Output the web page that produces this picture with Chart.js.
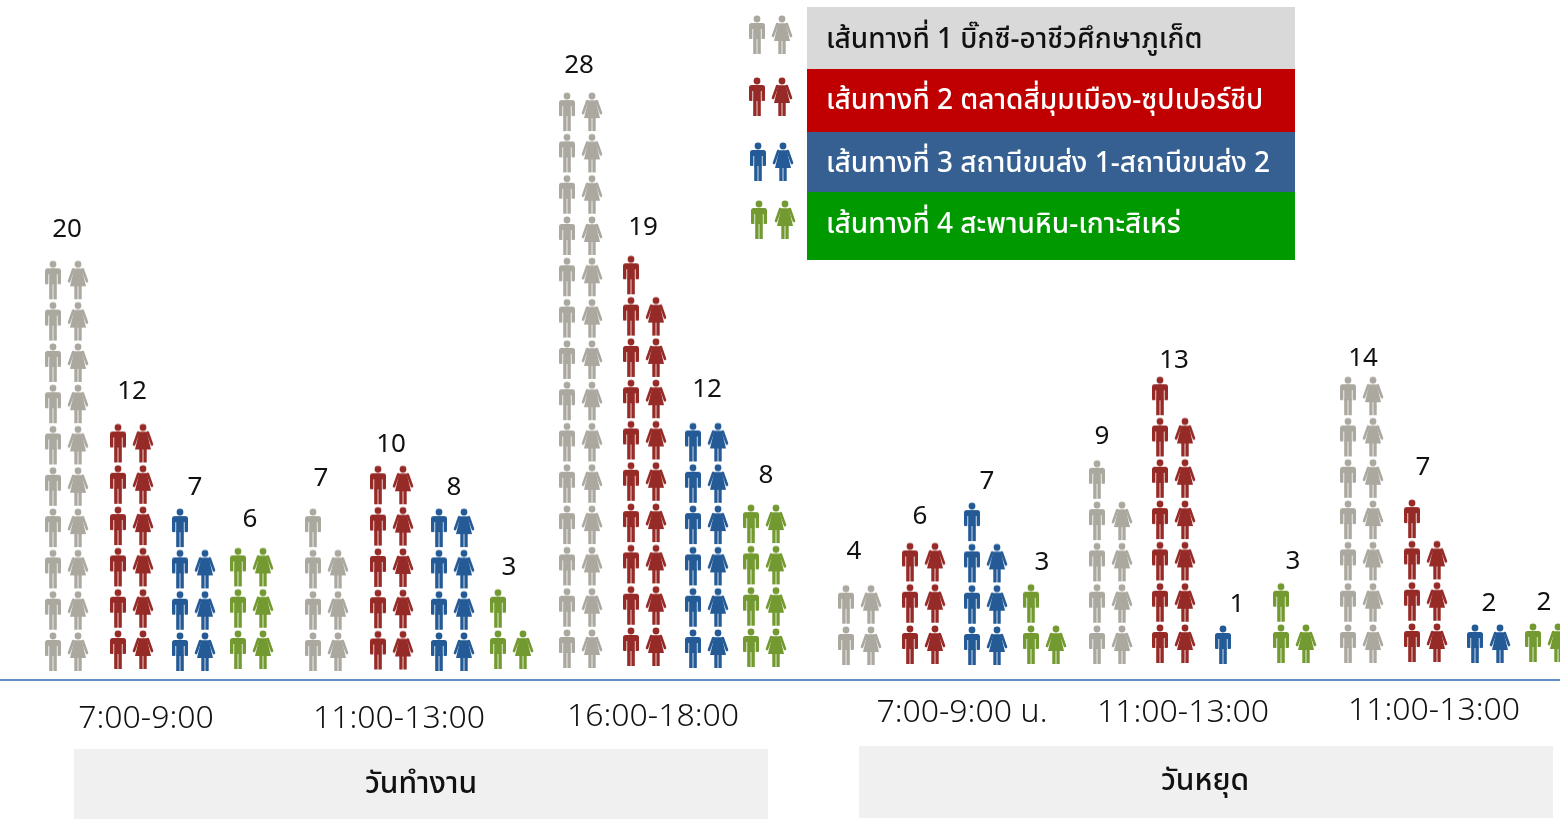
<!DOCTYPE html>
<html>
<head>
<meta charset="utf-8">
<style>
  html, body { margin: 0; padding: 0; background: #fff; overflow: hidden; }
  #wrap { position: relative; width: 1560px; height: 819px; }
</style>
<script src="https://cdn.jsdelivr.net/npm/chart.js@4"></script>
</head>
<body>
<div id="wrap"><canvas id="pictogram"></canvas></div>
<script>
// values, one per time slot
const timeSlots = ['7:00-9:00', '11:00-13:00', '16:00-18:00', '7:00-9:00 น.', '11:00-13:00', '11:00-13:00'];
const dayTypes = ['วันทำงาน', 'วันหยุด'];
const routeNames = [
  'เส้นทางที่ 1 บิ๊กซี-อาชีวศึกษาภูเก็ต',
  'เส้นทางที่ 2 ตลาดสี่มุมเมือง-ซุปเปอร์ชีป',
  'เส้นทางที่ 3 สถานีขนส่ง 1-สถานีขนส่ง 2',
  'เส้นทางที่ 4 สะพานหิน-เกาะสิเหร่'
];
const route1 = [20, 7, 28, 4, 9, 14];
const route2 = [12, 10, 19, 6, 13, 7];
const route3 = [7, 8, 12, 7, 1, 2];
const route4 = [6, 3, 8, 3, 3, 2];
const routes = [route1, route2, route3, route4];

// layout, one per column of people (route by route inside each time slot)
const colX = [53, 118, 180, 238, 313, 378, 439, 498, 567, 631, 693, 751, 846, 910, 972, 1031, 1097, 1160, 1223, 1281, 1348, 1412, 1475, 1533];
const colFoot = [670, 668, 670, 668, 670, 668.5, 670, 668, 667, 665, 667, 666, 664, 663, 664, 663, 663, 662, 663, 662, 662, 661, 662, 661];
const labelX = [67, 132, 195, 250, 321, 391, 454, 509, 579, 643, 707, 766, 854, 920, 987, 1042, 1102, 1174, 1237, 1293, 1363, 1423, 1489, 1544];
const labelGap = [33, 34, 23, 30, 32, 23, 23, 23, 29, 30, 35, 31, 35, 28, 23, 23, 25, 18, 22, 23, 20, 34, 22, 22];

const routeColors = ['#ABA89F', '#962A27', '#245A96', '#739A30'];
const legendFills = ['#D9D9D9', '#C00000', '#376092', '#009900'];
const legendInk = ['#111111', '#ffffff', '#ffffff', '#ffffff'];
const legendBox = [[7, 62], [69, 63], [132, 60], [192, 68]];
const legendTextY = [40, 101, 164, 225];
const legendIconX = [[757, 782], [757, 782], [758, 783], [759, 785]];
const legendIconTop = [14, 76, 141, 199];
const timeLabelPos = [[146, 719], [399, 719], [653, 717], [962, 713], [1183, 713], [1434, 711]];
const dayBands = [[74, 749, 694, 70, 421, 784], [859, 746, 694, 72, 1205, 781]];

const axisY = 679.5;
const pxPerPerson = 20.65;
const womanOffset = 25;
const ICON_H = 42;
const FONT = '"Noto Sans", "Noto Sans Thai", "Open Sans", sans-serif';

function makeIcon(isWoman, color) {
  const c = document.createElement('canvas');
  c.width = 24;
  c.height = ICON_H;
  const g = c.getContext('2d');
  const cx = 12;
  g.filter = 'blur(0.35px)';
  g.fillStyle = color;
  g.strokeStyle = color;
  g.beginPath();
  g.arc(cx, 5, 3.4, 0, Math.PI * 2);
  g.fill();
  if (isWoman) {
    g.beginPath();
    g.moveTo(cx - 3.8, 9.3);
    g.lineTo(cx + 3.8, 9.3);
    g.lineTo(cx + 8, 27);
    g.lineTo(cx - 8, 27);
    g.closePath();
    g.fill();
    g.lineWidth = 2.6;
    g.lineCap = 'round';
    g.beginPath();
    g.moveTo(cx - 4.8, 10);
    g.lineTo(cx - 9, 22);
    g.moveTo(cx + 4.8, 10);
    g.lineTo(cx + 9, 22);
    g.stroke();
    g.fillRect(cx - 3.7, 27, 3.3, 13);
    g.fillRect(cx + 0.4, 27, 3.3, 13);
  } else {
    g.beginPath();
    g.roundRect(cx - 8, 9, 16, 6, 2.5);
    g.fill();
    g.beginPath();
    g.roundRect(cx - 8, 11, 3.4, 14, 1);
    g.roundRect(cx + 4.6, 11, 3.4, 14, 1);
    g.fill();
    g.fillRect(cx - 3.8, 10, 7.6, 15);
    g.fillRect(cx - 3.8, 24, 3.4, 16);
    g.fillRect(cx + 0.4, 24, 3.4, 16);
  }
  return c;
}

const menIcons = routeColors.map(col => makeIcon(false, col));
const womenIcons = routeColors.map(col => makeIcon(true, col));

// a row of the pictogram stands for two people
function bottomCentre(col) {
  return (axisY - (colFoot[col] - ICON_H / 2 + 3)) / pxPerPerson;
}

const datasets = [];
routes.forEach((series, r) => {
  const men = [];
  const women = [];
  series.forEach((count, s) => {
    const col = s * 4 + r;
    const base = bottomCentre(col);
    for (let n = 0; n < count; n++) {
      const row = Math.floor(n / 2);
      const pt = { x: n % 2 ? colX[col] + womanOffset : colX[col], y: base + row * 2 };
      (n % 2 ? women : men).push(pt);
    }
  });
  datasets.push({ label: routeNames[r] + ' ชาย', data: men, pointStyle: menIcons[r], clip: false });
  datasets.push({ label: routeNames[r] + ' หญิง', data: women, pointStyle: womenIcons[r], clip: false });
});

const annotations = {
  id: 'annotations',
  beforeDatasetsDraw(chart) {
    const ctx = chart.ctx;
    ctx.save();
    dayBands.forEach(b => {
      ctx.fillStyle = '#F0F0F0';
      ctx.fillRect(b[0], b[1], b[2], b[3]);
    });
    legendBox.forEach((b, i) => {
      ctx.fillStyle = legendFills[i];
      ctx.fillRect(807, b[0], 488, b[1]);
    });
    ctx.restore();
  },
  afterDatasetsDraw(chart) {
    const ctx = chart.ctx;
    const yScale = chart.scales.y;
    ctx.save();
    ctx.textBaseline = 'middle';

    // count above each column
    ctx.fillStyle = '#111';
    ctx.textAlign = 'center';
    ctx.font = '26px ' + FONT;
    routes.forEach((series, r) => {
      series.forEach((count, s) => {
        const col = s * 4 + r;
        const topRow = Math.floor((count - 1) / 2);
        const head = yScale.getPixelForValue(bottomCentre(col) + topRow * 2) - ICON_H / 2 + 3;
        ctx.fillText(String(count), labelX[col], head - labelGap[col]);
      });
    });

    // time slots
    ctx.font = '300 32px ' + FONT;
    timeSlots.forEach((t, i) => {
      ctx.fillText(t, timeLabelPos[i][0], timeLabelPos[i][1]);
    });

    // day type bands
    ctx.font = '500 30px ' + FONT;
    dayBands.forEach((b, i) => {
      ctx.fillText(dayTypes[i], b[4], b[5]);
    });

    // legend
    ctx.textAlign = 'left';
    ctx.font = '500 28px ' + FONT;
    routeNames.forEach((name, i) => {
      ctx.fillStyle = legendInk[i];
      ctx.fillText(name, 826, legendTextY[i]);
      ctx.drawImage(menIcons[i], legendIconX[i][0] - 12, legendIconTop[i]);
      ctx.drawImage(womenIcons[i], legendIconX[i][1] - 12, legendIconTop[i]);
    });
    ctx.restore();
  }
};

const chart = new Chart(document.getElementById('pictogram'), {
  type: 'scatter',
  data: { datasets: datasets },
  plugins: [annotations],
  options: {
    responsive: true,
    maintainAspectRatio: false,
    animation: false,
    layout: { autoPadding: false, padding: { left: 0, right: 0, top: 0, bottom: 819 - axisY } },
    plugins: { legend: { display: false }, tooltip: { enabled: false }, title: { display: false } },
    scales: {
      x: {
        type: 'linear',
        min: 0,
        max: 1560,
        ticks: { display: false },
        grid: { display: false, drawTicks: false },
        border: { display: true, color: '#5F8FC4', width: 2 }
      },
      y: {
        min: 0,
        max: axisY / pxPerPerson,
        display: false
      }
    }
  }
});
</script>
</body>
</html>
